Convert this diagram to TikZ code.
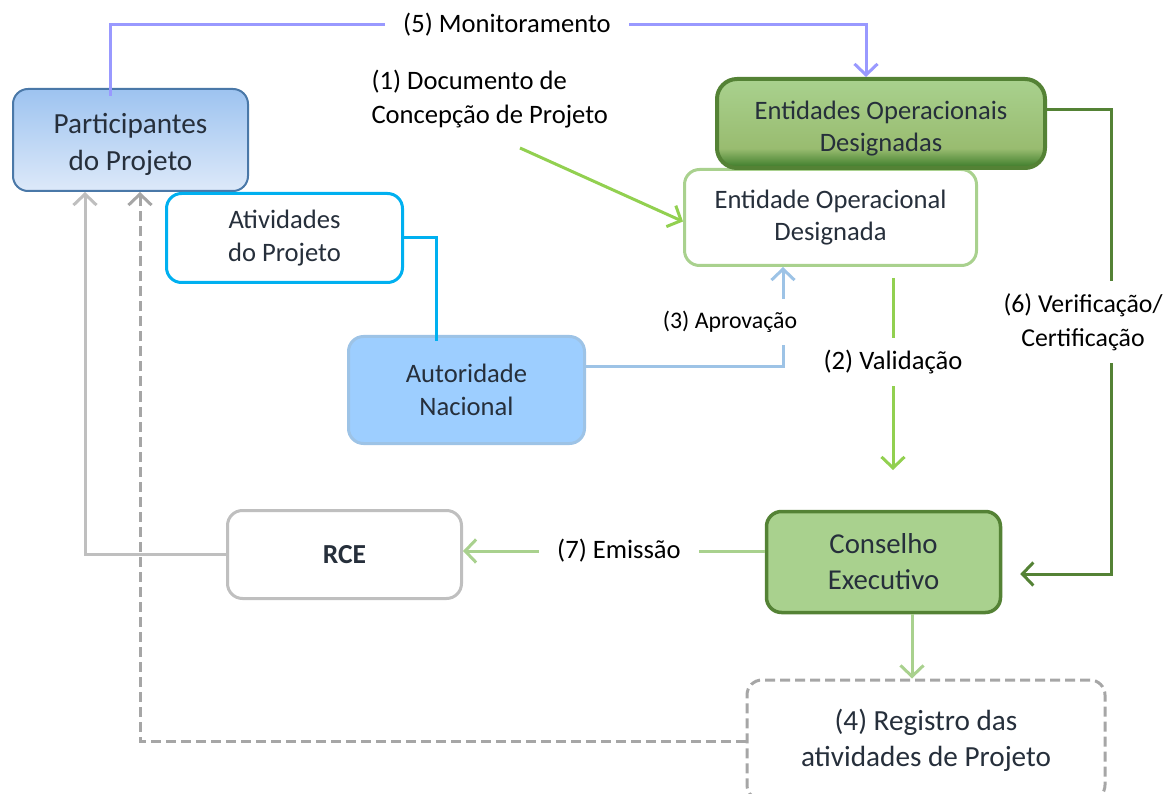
\documentclass[tikz,border=0pt]{standalone}
\usepackage{fontspec}
\setmainfont{Carlito}
\usetikzlibrary{arrows.meta}

\definecolor{txt}{HTML}{262F3B}
\definecolor{partTop}{HTML}{9DC3F0}
\definecolor{partBot}{HTML}{DDE9F9}
\definecolor{partLine}{HTML}{4A78A8}
\definecolor{cyanLine}{HTML}{00B0F0}
\definecolor{autoFill}{HTML}{9DCEFF}
\definecolor{autoLine}{HTML}{9DC3E6}
\definecolor{lightGreen}{HTML}{A9D18E}
\definecolor{brightGreen}{HTML}{92D050}
\definecolor{darkGreen}{HTML}{548235}
\definecolor{eodsDark}{HTML}{3A7A28}
\definecolor{eodsMid}{HTML}{99BC70}
\definecolor{monBlue}{HTML}{9999FF}
\definecolor{grayLine}{HTML}{BFBFBF}
\definecolor{dashGray}{HTML}{A6A6A6}

\newcommand{\lowertext}[2]{\raisebox{0pt}[\dimexpr\height+#1\relax][\depth]{#2}}

\pgfdeclareverticalshading{eodsshade}{100bp}{color(0bp)=(eodsDark); color(25bp)=(eodsDark); color(36bp)=(eodsMid); color(75bp)=(lightGreen); color(100bp)=(lightGreen)}

\begin{document}
\begin{tikzpicture}[x=1pt, y=-1pt,
  >={Straight Barb[length=11pt,width=23pt]},
  box/.style={rounded corners=15, align=center, text=txt, inner sep=0pt,
    font=\fontsize{26.6}{32.5}\selectfont},
  lbl/.style={fill=white, align=center, text=black, inner xsep=18, inner ysep=12,
    font=\fontsize{26.6}{32.5}\selectfont},
  conn/.style={line width=3pt}]
\useasboundingbox (0,0) rectangle (1168,794);

\node[box, draw=partLine, line width=2pt, top color=partTop, bottom color=partBot,
  minimum width=235, minimum height=102, font=\fontsize{29.2}{37}\selectfont]
  (part) at (130.5,140) {\lowertext{8pt}{\parbox{200pt}{\centering Participantes\\do Projeto}}};
\node[box, draw=cyanLine, line width=3pt, fill=white, minimum width=236, minimum height=89]
  (ativ) at (284.5,238) {Atividades\\do Projeto};
\node[box, draw=autoLine, line width=3pt, fill=autoFill, minimum width=236, minimum height=107]
  (auto) at (466.5,390) {Autoridade\\Nacional};
\node[box, draw=lightGreen, line width=3pt, fill=white, minimum width=292, minimum height=96]
  (eod) at (830.5,217.5) {Entidade Operacional\\Designada};
\node[box, rounded corners=20, draw=darkGreen, line width=4pt, shading=eodsshade,
  minimum width=328, minimum height=89]
  (eods) at (881,123.5) {\lowertext{10pt}{\parbox{320pt}{\centering Entidades Operacionais\\Designadas}}};
\node[box, draw=darkGreen, line width=3.5pt, fill=lightGreen, minimum width=234, minimum height=101,
  font=\fontsize{28.8}{36}\selectfont]
  (cons) at (883.5,562) {Conselho\\Executivo};
\node[box, draw=grayLine, line width=3pt, fill=white, minimum width=234, minimum height=88,
  font=\fontsize{27.5}{33}\selectfont\bfseries]
  (rce) at (344.5,554.5) {RCE};
\node[box, draw=dashGray, line width=3pt, dash pattern=on 10pt off 5pt, fill=white,
  minimum width=358, minimum height=120, font=\fontsize{29.2}{36}\selectfont]
  (reg) at (926,740) {(4) Registro das\\atividades de Projeto};

\coordinate (docstart) at (520,148);
\coordinate (valtop) at (893,278);
\coordinate (valend) at (893,470);

\draw[conn, monBlue, ->] ([shift={(-20.5,8)}]part.north) -- ++(0,-71) -| ([xshift=-15]eods.north);
\draw[conn, brightGreen, ->] (docstart) -- ([yshift=-4]eod.west);
\draw[conn, brightGreen, ->] (valtop) -- (valend);
\draw[conn, autoLine, ->] ([yshift=23]auto.east) -| ([xshift=-47.5]eod.south);
\draw[conn, cyanLine] (ativ.east) -| ([shift={(-30.5,6)}]auto.north);
\draw[conn, darkGreen, ->] ([yshift=13.5]eods.east) -- ++(64,0) |- ([shift={(18,12)}]cons.east);
\draw[conn, lightGreen, ->] ([yshift=11]cons.west) -- ([yshift=11]cons.west -| rce.east);
\draw[conn, grayLine, ->] (rce.west) -| ([xshift=-45.5]part.south);
\draw[conn, lightGreen, ->] ([xshift=28.5]cons.south) -- ([xshift=-14]reg.north);
\draw[conn, dashGray, dash pattern=on 10pt off 5pt, ->] ([yshift=-1]reg.west) -| ([xshift=9.5]part.south);

\node[lbl] (monlbl) at (507,25) {(5) Monitoramento};
\node[align=left, anchor=west, text=black, font=\fontsize{26.6}{34}\selectfont]
  (doclbl) at (368,99) {(1) Documento de\\Concepção de Projeto};
\node[lbl, font=\fontsize{23.8}{29}\selectfont, inner xsep=2] (aprlbl) at (730,322) {(3) Aprovação};
\node[lbl, inner xsep=4] (vallbl) at (893,362) {(2) Validação};
\node[lbl, inner xsep=2, font=\fontsize{25.8}{34}\selectfont] (verlbl) at (1083,322) {(6) Verificação/\\Certificação};
\node[lbl] (emilbl) at (619,551) {(7) Emissão};
\end{tikzpicture}
\end{document}
